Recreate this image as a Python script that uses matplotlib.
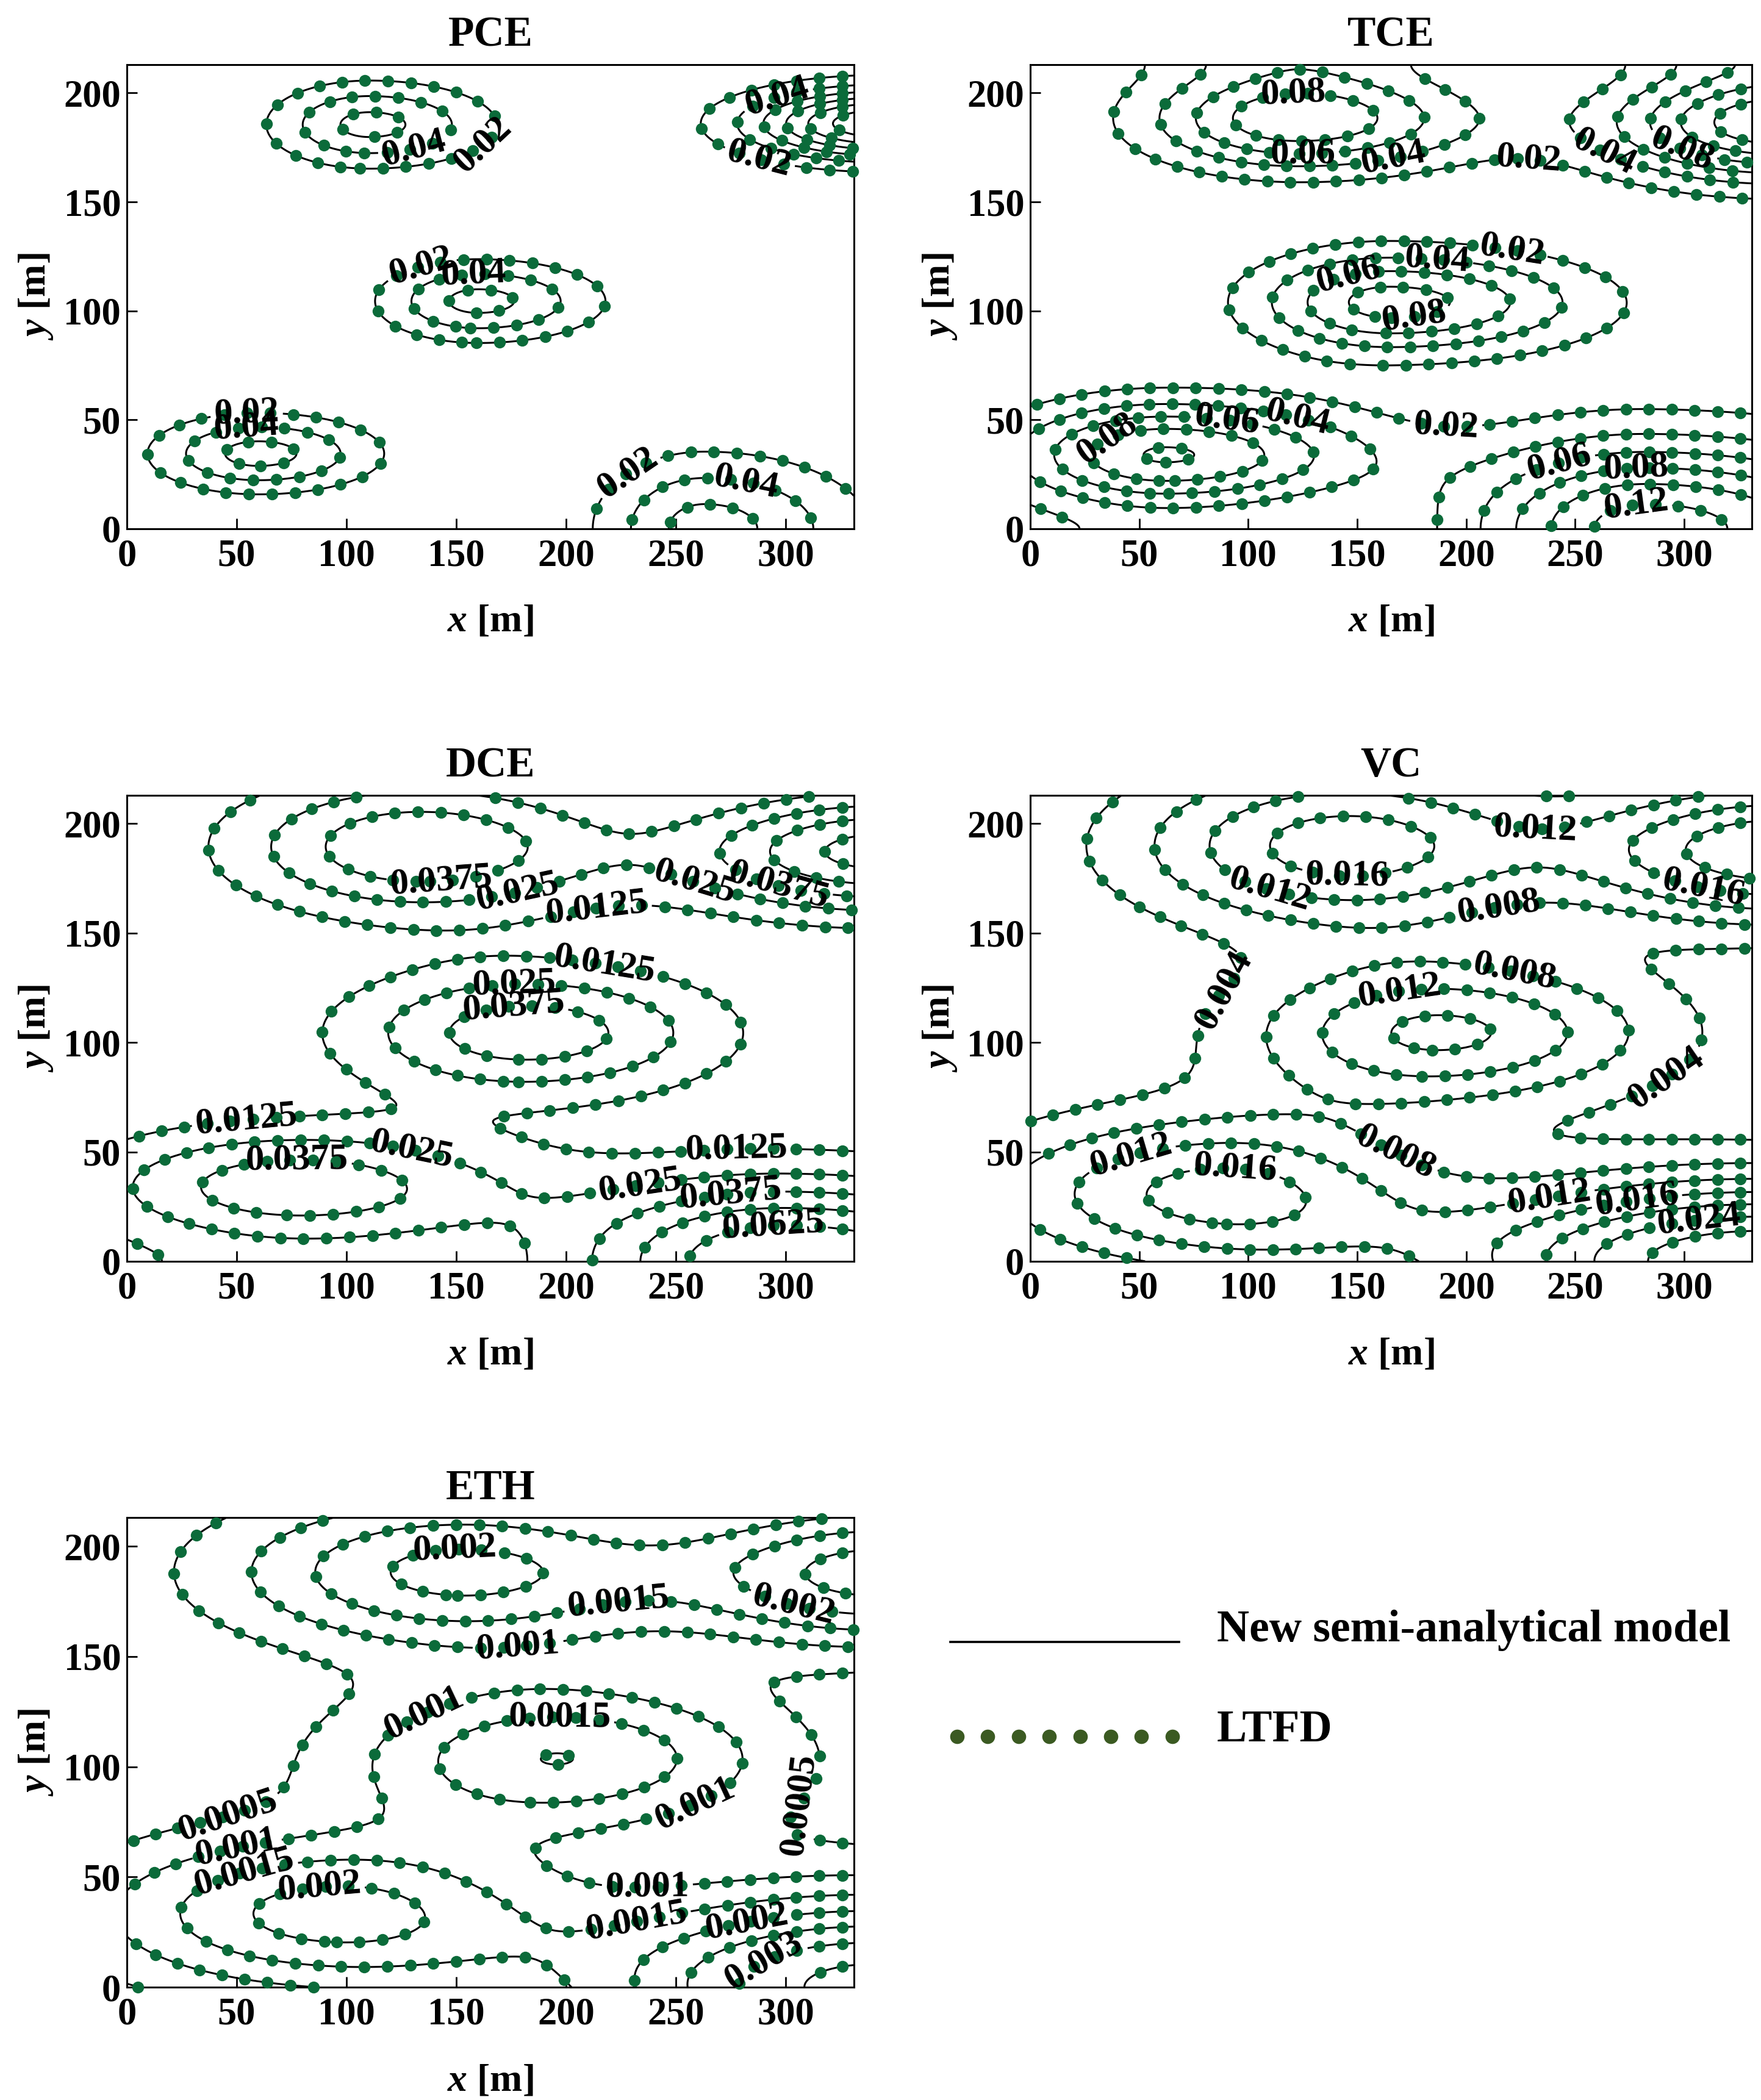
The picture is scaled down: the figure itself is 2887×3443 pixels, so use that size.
import numpy as np
import matplotlib
matplotlib.use("Agg")
import matplotlib.pyplot as plt

plt.rcParams["font.family"] = ["Liberation Serif", "DejaVu Serif"]
plt.rcParams["font.weight"] = "bold"
plt.rcParams["mathtext.fontset"] = "custom"
plt.rcParams["mathtext.it"] = "Liberation Serif:bold:italic"
plt.rcParams["mathtext.rm"] = "Liberation Serif:bold"

X_MAX, Y_MAX = 331, 213

# plume sources: centre, peak, spread (left / right of centre, vertical)
PCE_X0 = [60, 110.5, 160, 263, 345]
PCE_Y0 = [34.5, 185.5, 104.5, 0, 186]
PCE_AMP = [0.067, 0.066, 0.066, 0.068, 0.14]
PCE_SXL = [46, 43, 43, 46, 60]
PCE_SXR = [52, 53, 53, 68, 60]
PCE_SY = [17, 18.5, 17.6, 32, 16]
PCE_LEVELS = [0.02, 0.04, 0.06, 0.08, 0.10, 0.12]

TCE_X0 = [62, 123, 165, 283, 345]
TCE_Y0 = [34, 188, 104, 0, 186]
TCE_AMP = [0.102, 0.0966, 0.088, 0.065, 0.138]
TCE_SXL = [70, 67.5, 61, 85, 80]
TCE_SXR = [90, 80, 89, 130, 80]
TCE_SY = [24, 23, 23, 40, 25]
TCE_LEVELS = [0.02, 0.04, 0.06, 0.08, 0.10, 0.12]

DCE_X0 = [77, 133, 182, 300, 345]
DCE_Y0 = [34, 189.5, 104.5, 0, 187.3]
DCE_AMP = [0.046, 0.049, 0.045, 0.0375, 0.068]
DCE_SXL = [95, 82, 82, 100, 90]
DCE_SXR = [100, 85, 87, 140, 90]
DCE_SY = [27, 30.5, 28.5, 38, 27]
DCE_LEVELS = [0.0125, 0.025, 0.0375, 0.05, 0.0625]

VC_X0 = [86, 143.5, 188, 335, 345]
VC_Y0 = [31, 190, 104.5, 0, 188]
VC_AMP = [0.0172, 0.018, 0.0168, 0.032, 0.0237]
VC_SXL = [108, 96, 90, 140, 96]
VC_SXR = [90, 90, 100, 140, 96]
VC_SY = [36, 37, 32, 38, 32.5]
VC_LEVELS = [0.004, 0.008, 0.012, 0.016, 0.020, 0.024, 0.028]

ETH_X0 = [92, 149.5, 196.5, 340, 345]
ETH_Y0 = [33.5, 188.4, 104, 0, 188]
ETH_AMP = [0.00218, 0.00215, 0.001985, 0.0037, 0.00271]
ETH_SXL = [110, 106, 98, 131, 93]
ETH_SXR = [100, 100, 100, 131, 93]
ETH_SY = [36, 35, 33, 44, 33]
ETH_LEVELS = [0.0005, 0.001, 0.0015, 0.002, 0.0025, 0.003, 0.0035]

# vertical profile exponent and no-flux walls for each species
PANEL_PY = [2.0, 2.0, 2.0, 2.0, 2.0]
MIRROR_BOTTOM = [False, True, True, False, False]
MIRROR_TOP = [False, True, False, False, False]

# where the contour labels sit
PCE_LABELS = [(130, 178), (162, 176), (296, 199), (288, 170), (135, 116.6),
              (158, 113.6), (54.5, 54), (54.5, 43.5), (228.6, 24.7), (282, 21.7)]
TCE_LABELS = [(121, 192.7), (125, 171), (167, 168), (228, 163), (264, 174),
              (299, 174), (221.5, 131.4), (186.7, 124.5), (146.8, 112.6),
              (176, 99), (35, 42), (90, 48.4), (122, 48.4),
              (190.6, 44.5), (242, 33.6), (278, 30.6), (278, 10)]
DCE_LABELS = [(143, 177.4), (177.6, 170), (214.8, 156.3), (258.4, 172.7),
              (297, 172.7), (217.3, 134), (176.3, 123.8), (176.3, 112.5),
              (54.4, 65.5), (77.5, 44.8), (128.8, 46.7), (277.7, 48.2),
              (234, 32.5), (275, 28.8), (294.3, 13.7)]
VC_LABELS = [(145.5, 179), (110.7, 172.4), (231.8, 201), (215, 162), (309, 171.5),
             (95.3, 118.3), (221.5, 128.7), (170, 119.2), (46.4, 48), (94, 42.2),
             (168.7, 51.7), (292.3, 83), (238, 30.8), (278, 29.8), (306.5, 20.3)]
ETH_LABELS = [(149.6, 193.4), (224, 173.7), (178, 156.7), (304, 174.6),
              (136.8, 121), (197, 120), (256.3, 89), (46.8, 74.9), (50.6, 60.8),
              (54.5, 47.6), (88, 41), (237, 44.8), (232, 30.7), (282, 30.7),
              (306.4, 82.4), (290, 12)]

PANELS = [
    ("PCE", PCE_X0, PCE_Y0, PCE_AMP, PCE_SXL, PCE_SXR, PCE_SY, PCE_LEVELS, PCE_LABELS),
    ("TCE", TCE_X0, TCE_Y0, TCE_AMP, TCE_SXL, TCE_SXR, TCE_SY, TCE_LEVELS, TCE_LABELS),
    ("DCE", DCE_X0, DCE_Y0, DCE_AMP, DCE_SXL, DCE_SXR, DCE_SY, DCE_LEVELS, DCE_LABELS),
    ("VC", VC_X0, VC_Y0, VC_AMP, VC_SXL, VC_SXR, VC_SY, VC_LEVELS, VC_LABELS),
    ("ETH", ETH_X0, ETH_Y0, ETH_AMP, ETH_SXL, ETH_SXR, ETH_SY, ETH_LEVELS, ETH_LABELS),
]

LINE_COLOR = "black"
DOT_COLOR = "#0b6b3a"
LEGEND_DOT_COLOR = "#3b5a22"

# axes rectangles in figure fractions [left, bottom, width, height]
RECTS = [
    [0.0720, 0.7482, 0.4129, 0.2210],
    [0.5850, 0.7482, 0.4098, 0.2210],
    [0.0720, 0.3994, 0.4129, 0.2219],
    [0.5850, 0.3994, 0.4098, 0.2219],
    [0.0720, 0.0537, 0.4129, 0.2236],
]


def concentration(gx, gy, x0s, y0s, amps, sxl, sxr, sy, py, m_bot, m_top):
    c = np.zeros_like(gx)
    for x0, y0, a, sl, sr, s in zip(x0s, y0s, amps, sxl, sxr, sy):
        sx = np.where(gx < x0, sl, sr)
        fx = np.exp(-((gx - x0) / sx) ** 2)
        centres = [y0]
        if m_bot:
            centres.append(-y0)
        if m_top:
            centres.append(2 * Y_MAX - y0)
        for yc in centres:
            c += a * fx * np.exp(-np.abs((gy - yc) / s) ** py)
    return c


def dots_along(cs, spacing):
    xs, ys = [], []
    for segs in cs.allsegs:
        for seg in segs:
            if len(seg) < 2:
                continue
            d = np.hypot(np.diff(seg[:, 0]), np.diff(seg[:, 1]))
            s = np.concatenate([[0], np.cumsum(d)])
            if s[-1] < spacing * 0.4:
                continue
            t = np.arange(spacing / 2, s[-1], spacing)
            if len(t) == 0:
                t = np.array([s[-1] / 2])
            xs.append(np.interp(t, s, seg[:, 0]))
            ys.append(np.interp(t, s, seg[:, 1]))
    return np.concatenate(xs), np.concatenate(ys)


fig = plt.figure(figsize=(28.87, 34.43), dpi=100)

gx, gy = np.meshgrid(np.linspace(0, X_MAX, 500), np.linspace(0, Y_MAX, 330))

for i, (rect, panel) in enumerate(zip(RECTS, PANELS)):
    name, x0s, y0s, amps, sxl, sxr, sy, levels, label_at = panel
    ax = fig.add_axes(rect)
    c = concentration(gx, gy, x0s, y0s, amps, sxl, sxr, sy,
                      PANEL_PY[i], MIRROR_BOTTOM[i], MIRROR_TOP[i])
    cs = ax.contour(gx, gy, c, levels=levels, colors=LINE_COLOR, linewidths=2.2)
    dx, dy = dots_along(cs, 10.5)
    ax.plot(dx, dy, "o", color=DOT_COLOR, markersize=14, markeredgewidth=0,
            zorder=3, clip_on=False)
    ax.clabel(cs, levels=levels, manual=label_at, inline=True, fontsize=44,
              fmt=lambda v: f"{v:g}", inline_spacing=6)
    for t in cs.labelTexts:
        t.set_zorder(4)

    ax.set_xlim(0, X_MAX)
    ax.set_ylim(0, Y_MAX)
    ax.set_xticks([0, 50, 100, 150, 200, 250, 300])
    ax.set_yticks([0, 50, 100, 150, 200])
    ax.tick_params(direction="in", length=12, width=2, labelsize=45)
    ax.tick_params(axis="x", pad=12)
    ax.tick_params(axis="y", pad=7)
    for sp in ax.spines.values():
        sp.set_linewidth(2.2)
    ax.set_title(name, fontsize=50, fontweight="bold", pad=22)
    ax.set_xlabel(r"$x$ [m]", fontsize=46, fontweight="bold")
    ax.set_ylabel(r"$y$ [m]", fontsize=46, fontweight="bold")
    ax.xaxis.set_label_coords(0.5, -0.163)
    ax.yaxis.set_label_coords(-0.099, 0.5)

# legend drawn on a figure-wide overlay
lax = fig.add_axes([0, 0, 1, 1])
lax.set_xlim(0, 1)
lax.set_ylim(0, 1)
lax.axis("off")
lax.plot([0.5397, 0.6695], [0.2181, 0.2181], color=LINE_COLOR, linewidth=2.6)
lax.plot(np.linspace(0.5435, 0.6657, 8), [0.1731] * 8, "o", color=LEGEND_DOT_COLOR,
         markersize=17, markeredgewidth=0)
lax.text(0.691, 0.2236, "New semi-analytical model", fontsize=53, fontweight="bold",
         va="center", ha="left")
lax.text(0.691, 0.1760, "LTFD", fontsize=53, fontweight="bold", va="center", ha="left")

fig.savefig("out.png", dpi=100)
plt.close(fig)
